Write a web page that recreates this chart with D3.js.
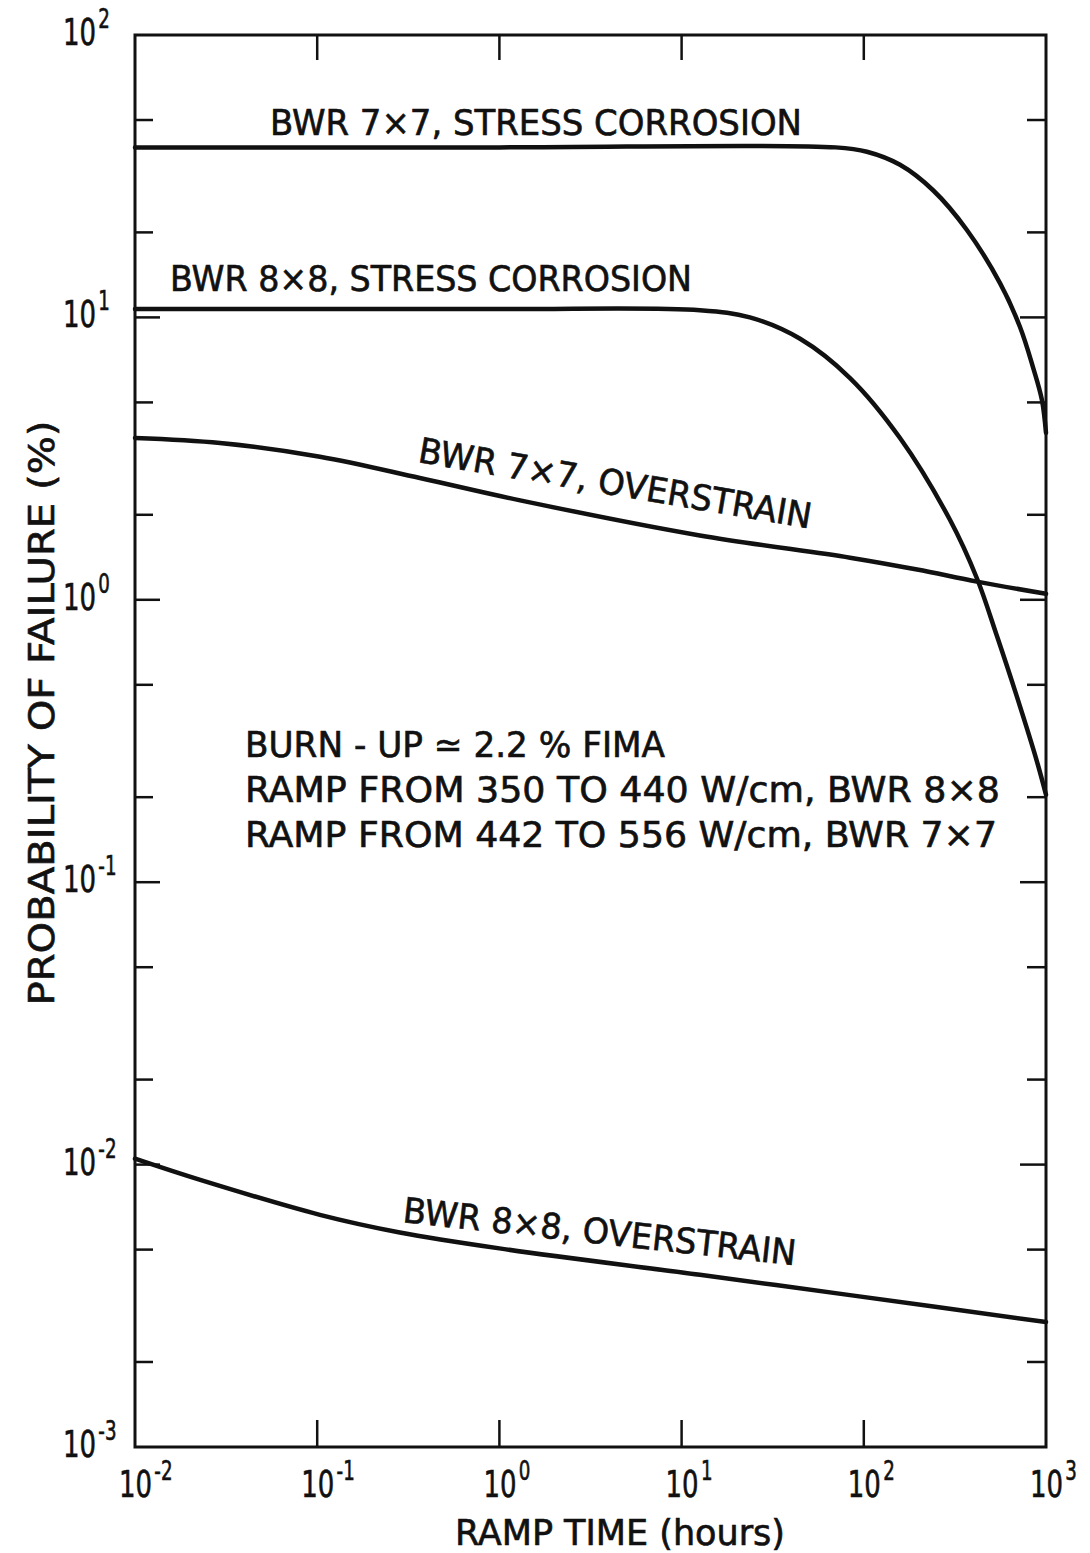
<!DOCTYPE html>
<html>
<head>
<meta charset="utf-8">
<script src="https://cdn.jsdelivr.net/npm/d3@7"></script>
<style>
html,body{margin:0;padding:0;background:#fff;}
svg{display:block;}
text{font-family:"DejaVu Sans Condensed","DejaVu Sans",sans-serif;fill:#111;stroke:#111;stroke-width:0.6px;}
</style>
</head>
<body>
<svg id="chart" width="1090" height="1553"></svg>
<script>
// ---- data (ramp time in hours, probability of failure in %) ----
const sc7x7_t = [0.01, 1, 70, 104, 158, 240, 368, 560, 720, 848, 950, 1000];
const sc7x7_p = [40, 40, 40, 38.6, 34.7, 28.2, 20.4, 13.2, 9.25, 6.67, 5.1, 3.9];

const sc8x8_t = [0.01, 1, 12.6, 23.7, 44.7, 84, 158, 297, 418, 538, 693, 893, 1000];
const sc8x8_p = [10.7, 10.7, 10.6, 10.0, 8.4, 6.1, 3.74, 1.92, 1.19, 0.744, 0.453, 0.267, 0.204];

const os7x7_t = [0.01, 0.0293, 0.1035, 0.366, 1.3, 12.6, 84, 196, 418, 1000];
const os7x7_p = [3.74, 3.59, 3.21, 2.70, 2.25, 1.69, 1.41, 1.28, 1.16, 1.05];

const os8x8_t = [0.01, 0.0228, 0.1035, 0.284, 1.0, 12.6, 84, 1000];
const os8x8_p = [0.0105, 0.00883, 0.00664, 0.00575, 0.00505, 0.00407, 0.00345, 0.00277];

const xTickExps = [-2, -1, 0, 1, 2, 3];
const yTickExps = [-3, -2, -1, 0, 1, 2];
const yMinorMult = [2, 5];

const curveLabels = [
  "BWR 7\u00d77, STRESS CORROSION",
  "BWR 8\u00d78, STRESS CORROSION",
  "BWR 7\u00d77, OVERSTRAIN",
  "BWR 8\u00d78, OVERSTRAIN"
];
const noteLines = [
  "BURN - UP \u2243 2.2 % FIMA",
  "RAMP FROM 350 TO 440 W/cm, BWR 8\u00d78",
  "RAMP FROM 442 TO 556 W/cm, BWR 7\u00d77"
];
const xTitle = "RAMP TIME (hours)";
const yTitle = "PROBABILITY OF FAILURE (%)";

// ---- layout ----
const L = 135, R = 1046, T = 35, B = 1447;
const svg = d3.select("#chart");
const x = d3.scaleLog().domain([1e-2, 1e3]).range([L, R]);
const y = d3.scaleLog().domain([1e-3, 1e2]).range([B, T]);
const ink = "#111";

// frame
svg.append("rect").attr("x", L).attr("y", T).attr("width", R - L).attr("height", B - T)
  .attr("fill", "none").attr("stroke", ink).attr("stroke-width", 3);

// x ticks (inward, top and bottom)
xTickExps.slice(1, -1).map(e => Math.pow(10, e)).forEach(v => {
  svg.append("line").attr("x1", x(v)).attr("x2", x(v)).attr("y1", B).attr("y2", B - 27)
    .attr("stroke", ink).attr("stroke-width", 2.5);
  svg.append("line").attr("x1", x(v)).attr("x2", x(v)).attr("y1", T).attr("y2", T + 25)
    .attr("stroke", ink).attr("stroke-width", 2.5);
});

// y ticks (inward, left and right)
const yMajor = yTickExps.map(e => Math.pow(10, e));
const yMinor = [];
yTickExps.slice(0, -1).forEach(e => yMinorMult.forEach(m => yMinor.push(m * Math.pow(10, e))));
yMajor.slice(1, -1).forEach(v => {
  [[L, L + 25], [R, R - 26]].forEach(([a, b]) =>
    svg.append("line").attr("x1", a).attr("x2", b).attr("y1", y(v)).attr("y2", y(v))
      .attr("stroke", ink).attr("stroke-width", 2.5));
});
yMinor.forEach(v => {
  [[L, L + 18], [R, R - 19]].forEach(([a, b]) =>
    svg.append("line").attr("x1", a).attr("x2", b).attr("y1", y(v)).attr("y2", y(v))
      .attr("stroke", ink).attr("stroke-width", 2.5));
});

// tick labels: one text per label, exponent as raised tspan
const supText = e => (e < 0 ? "-" + Math.abs(e) : String(e));
function powLabel(tx, ty, e) {
  const t = svg.append("text").attr("transform", `translate(${tx},${ty}) scale(0.78,1)`)
    .attr("font-size", 37);
  t.append("tspan").text("10");
  t.append("tspan").attr("dx", 3).attr("dy", -17).attr("font-size", 26).text(supText(e));
}
xTickExps.forEach(e => powLabel(x(Math.pow(10, e)) - 16, 1497, e));
yTickExps.forEach(e => powLabel(63, y(Math.pow(10, e)) + 10, e));

// curves
const line = d3.line().x(d => x(d[0])).y(d => y(d[1])).curve(d3.curveCatmullRom.alpha(0.5));
[
  d3.zip(sc7x7_t, sc7x7_p),
  d3.zip(sc8x8_t, sc8x8_p),
  d3.zip(os7x7_t, os7x7_p),
  d3.zip(os8x8_t, os8x8_p)
].forEach(s => {
  svg.append("path").attr("d", line(s)).attr("fill", "none")
    .attr("stroke", ink).attr("stroke-width", 4.5).attr("stroke-linejoin", "round")
    .attr("stroke-linecap", "round");
});

// curve labels
const lblPos = [
  {x: 270, y: 135, len: 532, rot: 0},
  {x: 170, y: 291, len: 522, rot: 0},
  {x: 417, y: 462, len: 398, rot: 9.6},
  {x: 402, y: 1222, len: 395, rot: 6.3}
];
curveLabels.forEach((t, i) => {
  const p = lblPos[i];
  svg.append("text").attr("transform", `translate(${p.x},${p.y}) rotate(${p.rot})`)
    .attr("font-size", 35).attr("textLength", p.len).attr("lengthAdjust", "spacingAndGlyphs")
    .text(t);
});

// note
const noteLen = [420, 755, 752];
noteLines.forEach((t, i) => {
  svg.append("text").attr("x", 245).attr("y", 757 + i * 45).attr("font-size", 35)
    .attr("textLength", noteLen[i]).attr("lengthAdjust", "spacingAndGlyphs").text(t);
});

// axis titles
svg.append("text").attr("x", 620).attr("y", 1545).attr("text-anchor", "middle")
  .attr("font-size", 36).attr("textLength", 330).attr("lengthAdjust", "spacingAndGlyphs").text(xTitle);
svg.append("text").attr("transform", "translate(54,713) rotate(-90)").attr("text-anchor", "middle")
  .attr("font-size", 36).attr("textLength", 585).attr("lengthAdjust", "spacingAndGlyphs").text(yTitle);
</script>
</body>
</html>
